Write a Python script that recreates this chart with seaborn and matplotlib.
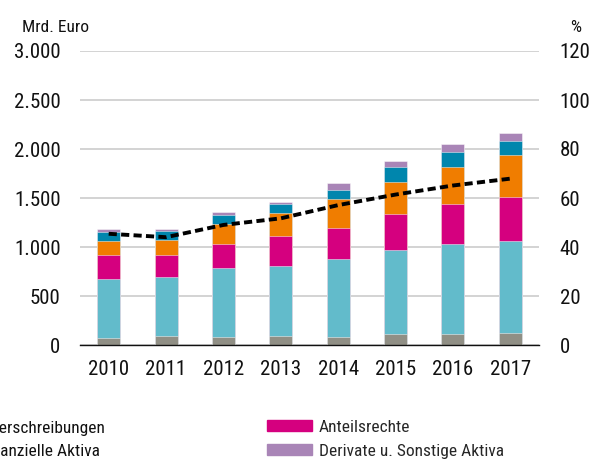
import matplotlib
matplotlib.use("Agg")
import numpy as np
import pandas as pd
import seaborn as sns
import matplotlib.pyplot as plt
import matplotlib.patches as mpatches
from matplotlib import font_manager as fm

# ---- data ----
years = ["2010", "2011", "2012", "2013", "2014", "2015", "2016", "2017"]
einlagen = [68, 89, 85, 89, 84, 111, 111, 125]                # grey
schuldverschreibungen = [602, 608, 697, 717, 795, 854, 922, 939]  # light teal
anteilsrechte = [251, 224, 252, 309, 318, 375, 410, 450]      # magenta
investmentfonds = [143, 153, 201, 232, 294, 325, 376, 428]    # orange
sonstige_fin = [92, 92, 95, 95, 95, 147, 146, 143]            # dark blue
derivate_sonstige = [24, 17, 24, 20, 69, 65, 82, 82]          # lavender
quote = [45.4, 44.0, 49.0, 51.7, 57.1, 61.4, 65.1, 67.9]      # % (right axis)

series_names = ["Einlagen", "Schuldverschreibungen", "Anteilsrechte",
                "Investmentfondsanteile", "Sonstige finanzielle Aktiva",
                "Derivate u. Sonstige Aktiva"]
series_values = [einlagen, schuldverschreibungen, anteilsrechte,
                 investmentfonds, sonstige_fin, derivate_sonstige]
colors = ["#908F85", "#62BBCB", "#D5007F", "#F07D00", "#0086AD", "#A985B7"]

left_ticks = [0, 500, 1000, 1500, 2000, 2500, 3000]
right_ticks = [0, 20, 40, 60, 80, 100, 120]

sns.set_style("white")

# look for a narrow / condensed sans font; fall back to Liberation Sans
cands = [f for f in fm.fontManager.ttflist
         if ("Narrow" in f.name or "Condensed" in f.name
             or f.stretch in ("condensed", "semi-condensed"))
         and f.style == "normal" and f.weight in (400, "normal", "regular")
         and "Mono" not in f.name and "Serif" not in f.name]
if cands:
    cands.sort(key=lambda f: (0 if "Liberation" in f.name else
                              1 if "Roboto" in f.name else 2))
    fam = cands[0].name
    plt.rcParams["font.stretch"] = cands[0].stretch
    scale = 1.0
else:
    fam = "Liberation Sans"
    scale = 0.88
plt.rcParams["font.family"] = [fam, "DejaVu Sans"]
FS = 15 * scale
FL = 12.5 * scale

W, H = 590, 461
fig = plt.figure(figsize=(W / 100, H / 100), dpi=100)
ax = fig.add_axes([80 / W, 1 - 345 / H, (539 - 80) / W, (345 - 51) / H])

cum = np.zeros(len(years))
cums = []
for vals in series_values:
    cum = cum + np.array(vals)
    cums.append(cum.copy())
df_cum = pd.DataFrame({name: c for name, c in zip(series_names, cums)})
df_cum["year"] = years

# draw cumulative totals from top layer down, each covers the lower part
for name, col in reversed(list(zip(series_names, colors))):
    sns.barplot(data=df_cum, x="year", y=name, color=col, saturation=1,
                width=0.4, edgecolor=(1, 1, 1, 0.55), linewidth=0.6, ax=ax,
                zorder=2)

ax.set_ylim(0, 3000)
ax.set_xlim(-0.5, 7.5)
ax.set_yticks(left_ticks)
ax.set_yticklabels([f"{v:,}".replace(",", ".") for v in left_ticks])
ax.yaxis.grid(True, color="#C8C8C8", linewidth=1.1, zorder=0)
ax.set_axisbelow(True)
ax.tick_params(axis="y", length=0, pad=14, labelsize=FS, labelcolor="#111111")
ax.set_xlabel("")
ax.set_ylabel("")
ax.set_xticks(np.arange(-0.5, 8, 1.0))
ax.set_xticklabels([])
ax.set_xticks(np.arange(len(years)), minor=True)
ax.set_xticklabels(years, minor=True)
ax.tick_params(axis="x", which="major", length=6, width=1.0, color="#333333",
               direction="out")
ax.tick_params(axis="x", which="minor", length=0, pad=11, labelsize=FS,
               labelcolor="#111111")
for s in ["top", "left", "right"]:
    ax.spines[s].set_visible(False)
ax.spines["bottom"].set_color("#111111")
ax.spines["bottom"].set_linewidth(1.0)
ax.spines["bottom"].set_zorder(5)

ax2 = ax.twinx()
sns.lineplot(x=np.arange(len(years)), y=quote, ax=ax2, color="black",
             linewidth=2.8, zorder=5)
ax2.lines[0].set_dashes([2.1, 1.1])
ax2.set_ylim(0, 120)
ax2.set_yticks(right_ticks)
ax2.tick_params(axis="y", length=0, pad=15, labelsize=FS, labelcolor="#111111")
ax2.set_ylabel("")
for s in ["top", "left", "right", "bottom"]:
    ax2.spines[s].set_visible(False)
ax2.grid(False)

fig.text(22 / W, 1 - 32 / H, "Mrd. Euro", fontsize=FL, va="baseline",
         ha="left", color="#111111")
fig.text(570 / W, 1 - 32 / H, "%", fontsize=FL, va="baseline", ha="left",
         color="#111111")

# legend (left column is cut off by the figure edge, as in the reference)
fig.text(105 / W, 1 - 433 / H, series_names[1], fontsize=FL, ha="right",
         va="baseline", color="#111111")
fig.text(100 / W, 1 - 456 / H, series_names[4], fontsize=FL, ha="right",
         va="baseline", color="#111111")
handles = [mpatches.Patch(color=colors[2]), mpatches.Patch(color=colors[5])]
fig.legend(handles, [series_names[2], series_names[5]], loc="upper left",
           bbox_to_anchor=(267 / W, 1 - 420 / H), frameon=False,
           borderpad=0, borderaxespad=0, fontsize=FL, handlelength=2.6,
           handleheight=0.6, handletextpad=0.4, labelspacing=0.5)

fig.savefig("out.png", dpi=100)
